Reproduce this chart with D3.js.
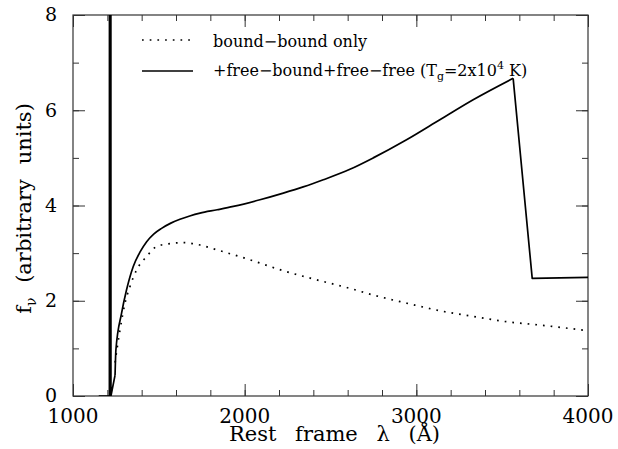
<!DOCTYPE html>
<html>
<head>
<meta charset="utf-8">
<script src="https://cdn.jsdelivr.net/npm/d3@7"></script>
<style>
  body { margin: 0; background: #fff; }
  svg { display: block; font-family: "DejaVu Serif", serif; }
</style>
</head>
<body>
<script>
const fullLam = [1150, 1212, 1214, 1219, 1221, 1245, 1250, 1283, 1312, 1351, 1390, 1429, 1470, 1516, 1570, 1623, 1680, 1740, 1840, 1934, 2089, 2225, 2341, 2458, 2613, 2749, 2943, 3137, 3331, 3564, 3675, 4000];
const fullF   = [0, 0, 40, 40, 0, 0.44, 0.97, 1.74, 2.23, 2.72, 3.02, 3.24, 3.40, 3.52, 3.63, 3.71, 3.78, 3.84, 3.91, 3.98, 4.12, 4.26, 4.39, 4.54, 4.76, 5.00, 5.38, 5.80, 6.22, 6.67, 2.47, 2.49];

const bbLam = [1245, 1250, 1274, 1303, 1332, 1371, 1429, 1487, 1545, 1642, 1740, 1837, 2031, 2225, 2419, 2613, 2749, 2943, 3137, 3331, 3525, 3720, 4000];
const bbF   = [0.7, 0.83, 1.39, 1.95, 2.30, 2.65, 2.93, 3.14, 3.19, 3.22, 3.17, 3.07, 2.86, 2.63, 2.44, 2.26, 2.12, 1.95, 1.79, 1.67, 1.56, 1.49, 1.37];

const xMajor = [1000, 2000, 3000, 4000];
const xMinor = d3.range(1000, 4001, 200);
const yMajor = [0, 2, 4, 6, 8];
const yMinor = d3.range(0, 9, 1);

const width = 618, height = 449;
const margin = {top: 15, right: 30, bottom: 53, left: 73};

const svg = d3.select("body").append("svg")
    .attr("width", width)
    .attr("height", height);

const x = d3.scaleLinear()
    .domain([1000, 4000])
    .range([margin.left, width - margin.right]);

const y = d3.scaleLinear()
    .domain([0, 8])
    .range([height - margin.bottom, margin.top]);

svg.append("clipPath").attr("id", "clip")
  .append("rect")
    .attr("x", margin.left)
    .attr("y", margin.top)
    .attr("width", x.range()[1] - margin.left)
    .attr("height", y.range()[0] - margin.top);

// axes, ticks pointing inward on all four sides
const big = 12, small = 6;
function ticks(axis, vals, len) {
  return g => g.call(axis.tickValues(vals).tickSize(-len).tickFormat(""))
    .call(g => g.select(".domain").remove())
    .call(g => g.selectAll("line").attr("stroke", "#333"));
}
const bottom = height - margin.bottom, right = width - margin.right;
svg.append("g").attr("transform", `translate(0,${bottom})`).call(ticks(d3.axisBottom(x), xMinor, small));
svg.append("g").attr("transform", `translate(0,${bottom})`).call(ticks(d3.axisBottom(x), xMajor, big));
svg.append("g").attr("transform", `translate(0,${margin.top})`).call(ticks(d3.axisTop(x), xMinor, small));
svg.append("g").attr("transform", `translate(0,${margin.top})`).call(ticks(d3.axisTop(x), xMajor, big));
svg.append("g").attr("transform", `translate(${margin.left},0)`).call(ticks(d3.axisLeft(y), yMinor, small));
svg.append("g").attr("transform", `translate(${margin.left},0)`).call(ticks(d3.axisLeft(y), yMajor, big));
svg.append("g").attr("transform", `translate(${right},0)`).call(ticks(d3.axisRight(y), yMinor, small));
svg.append("g").attr("transform", `translate(${right},0)`).call(ticks(d3.axisRight(y), yMajor, big));

svg.append("rect")
    .attr("x", margin.left)
    .attr("y", margin.top)
    .attr("width", right - margin.left)
    .attr("height", bottom - margin.top)
    .attr("fill", "none")
    .attr("stroke", "#333")
    .attr("stroke-width", 1.2);

// tick labels
svg.append("g").selectAll("text")
  .data(xMajor)
  .join("text")
    .attr("x", d => x(d))
    .attr("y", bottom + 27)
    .attr("text-anchor", "middle")
    .style("font-size", "20px")
    .text(d => d);

svg.append("g").selectAll("text")
  .data(yMajor)
  .join("text")
    .attr("x", margin.left - 16)
    .attr("y", d => y(d))
    .attr("dy", "0.34em")
    .attr("text-anchor", "end")
    .style("font-size", "19px")
    .text(d => d);

// axis titles
svg.append("text")
    .attr("x", (margin.left + right) / 2 + 4)
    .attr("y", 441)
    .attr("text-anchor", "middle")
    .style("font-size", "21px")
    .style("word-spacing", "12px")
    .text("Rest frame λ (Å)");

const yl = svg.append("text")
    .attr("transform", `translate(31,${(margin.top + bottom) / 2 + 3}) rotate(-90)`)
    .attr("text-anchor", "middle")
    .style("font-size", "21px")
    .style("word-spacing", "8px");
yl.append("tspan").text("f");
yl.append("tspan").attr("dy", 5).style("font-size", "14px").text("ν");
yl.append("tspan").attr("dy", -5).text(" (arbitrary units)");

// curves
const line = d3.line()
    .x(d => x(d[0]))
    .y(d => y(d[1]));

const plot = svg.append("g").attr("clip-path", "url(#clip)");

plot.append("path")
    .datum(d3.zip(bbLam, bbF))
    .attr("fill", "none")
    .attr("stroke", "#000")
    .attr("stroke-width", 1.7)
    .attr("stroke-dasharray", "1.7,6")
    .attr("d", line.curve(d3.curveMonotoneX));

// the spike and the edge drop are straight, the continuum between is smooth
const full = d3.zip(fullLam, fullF);
const iStart = fullLam.indexOf(1245), iPeak = fullLam.indexOf(3564);
[[full.slice(0, iStart + 1), d3.curveLinear],
 [full.slice(iStart, iPeak + 1), d3.curveMonotoneX],
 [full.slice(iPeak), d3.curveLinear]].forEach(([pts, c]) => {
  plot.append("path")
      .datum(pts)
      .attr("fill", "none")
      .attr("stroke", "#000")
      .attr("stroke-width", 1.7)
      .attr("stroke-linejoin", "round")
      .attr("d", line.curve(c));
});

// legend
const leg = svg.append("g");
leg.append("line")
    .attr("x1", 142).attr("x2", 192).attr("y1", 40).attr("y2", 40)
    .attr("stroke", "#000").attr("stroke-width", 1.7)
    .attr("stroke-dasharray", "1.7,6");
leg.append("line")
    .attr("x1", 142).attr("x2", 193).attr("y1", 71).attr("y2", 71)
    .attr("stroke", "#000").attr("stroke-width", 1.7);

leg.append("text")
    .attr("x", 213).attr("y", 47)
    .style("font-size", "16px")
    .text("bound−bound only");

const t2 = leg.append("text")
    .attr("x", 213).attr("y", 76)
    .style("font-size", "16px");
t2.append("tspan").text("+free−bound+free−free (T");
t2.append("tspan").attr("dy", 4).style("font-size", "11px").text("g");
t2.append("tspan").attr("dy", -4).text("=2x10");
t2.append("tspan").attr("dy", -7).style("font-size", "11px").text("4");
t2.append("tspan").attr("dy", 7).text(" K)");
</script>
</body>
</html>
